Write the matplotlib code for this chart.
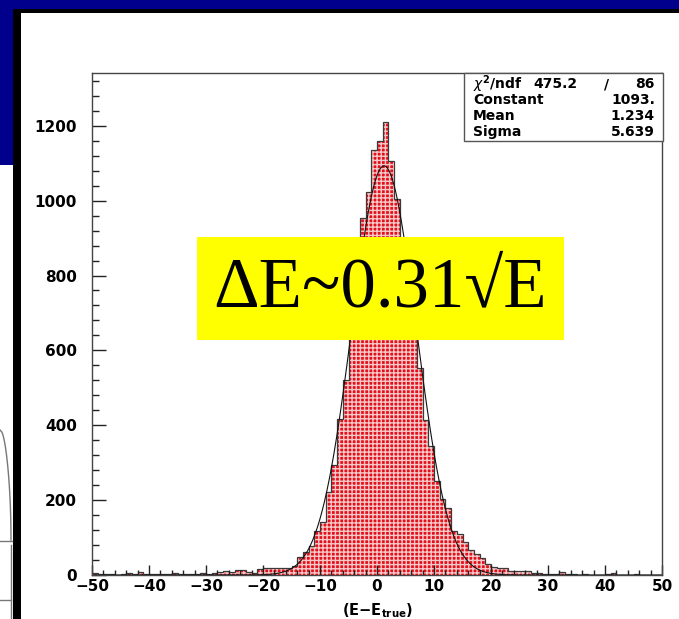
import numpy as np
import matplotlib
matplotlib.use("Agg")
import matplotlib.pyplot as plt
from matplotlib.patches import Rectangle
from matplotlib.ticker import MultipleLocator

# ---------------- data ----------------
x_range = (-50, 50)          # histogram range, 1-unit bins
counts = [
    # -50 .. -41
    5, 4, 3, 2, 1, 3, 5, 2, 7, 3,
    # -40 .. -31
    2, 3, 4, 3, 5, 2, 4, 4, 3, 5,
    # -30 .. -21
    4, 6, 9, 10, 8, 13, 13, 9, 6, 15,
    # -20 .. -11
    18, 18, 19, 20, 18, 24, 48, 62, 78, 118,
    # -10 .. -1
    142, 222, 293, 416, 521, 700, 850, 954, 1024, 1136,
    # 0 .. 9
    1160, 1210, 1106, 1004, 880, 770, 660, 552, 413, 345,
    # 10 .. 19
    252, 204, 178, 118, 110, 89, 68, 56, 46, 30,
    # 20 .. 29
    21, 18, 18, 11, 10, 11, 10, 6, 5, 4,
    # 30 .. 39
    3, 4, 8, 3, 2, 1, 2, 0, 1, 1,
    # 40 .. 49
    2, 5, 1, 0, 1, 2, 0, 1, 0, 1,
]
fit_constant = 1093.0
fit_mean = 1.234
fit_sigma = 5.639
chi2 = 475.2
ndf = 86
x_ticks = [-50, -40, -30, -20, -10, 0, 10, 20, 30, 40, 50]
y_ticks = [0, 200, 400, 600, 800, 1000, 1200]
x_label = "(E\u2212E$_{true}$)"
banner = "\u0394E~0.31\u221aE"

# ---------------- figure ----------------
W, H = 679, 619
fig = plt.figure(figsize=(W / 100, H / 100), dpi=100)
fig.patch.set_facecolor("white")
plt.rcParams["mathtext.default"] = "regular"

def px_axes(z):
    a = fig.add_axes([0, 0, 1, 1], zorder=z)
    a.set_xlim(0, W)
    a.set_ylim(H, 0)
    a.axis("off")
    a.patch.set_alpha(0)
    return a

bg = px_axes(0)
navy = "#00008c"
bg.add_patch(Rectangle((0, 0), W, 9, color=navy, lw=0))
bg.add_patch(Rectangle((0, 0), 13, 165, color=navy, lw=0))
bg.add_patch(Rectangle((13, 9), W - 13, 4, color="black", lw=0))
bg.add_patch(Rectangle((13, 9), 8, H, color="black", lw=0))
# remnants of the underlying slide at the far left
t = np.linspace(0, 1, 50)
bg.plot(11 * np.sin(t * np.pi / 2) ** 0.5, 430 + 110 * t, color="#777777", lw=1)
bg.plot([0, 12], [541, 541], color="#777777", lw=1)
bg.plot([11, 11], [545, H], color="#777777", lw=1)
bg.plot([0, 11], [600, 600], color="#777777", lw=1)

# main axes in pixel placement
L, R, T, B = 92, 662, 73, 575
ax = fig.add_axes([L / W, (H - B) / H, (R - L) / W, (B - T) / H], zorder=5)
ax.set_facecolor("white")

edges = np.arange(x_range[0], x_range[1] + 1, 1)
vals = np.array(counts, dtype=float)
plt.rcParams["hatch.linewidth"] = 1.0
ax.stairs(vals, edges, fill=True, facecolor="#e3101c", edgecolor="#f6c9c9",
          hatch="++++", linewidth=0)
ax.stairs(vals, edges, color="#3a3a3a", lw=0.9)

xf = np.linspace(x_range[0], x_range[1], 1000)
yf = fit_constant * np.exp(-0.5 * ((xf - fit_mean) / fit_sigma) ** 2)
ax.plot(xf, yf, color="#111111", lw=0.8)

ax.set_xlim(*x_range)
ax.set_ylim(0, 1341)
ax.set_xticks(x_ticks)
ax.set_yticks(y_ticks)
ax.xaxis.set_minor_locator(MultipleLocator(2))
ax.yaxis.set_minor_locator(MultipleLocator(40))
ax.tick_params(axis="x", which="major", direction="in", length=7.2, width=1,
               color="#222222", labelsize=11, pad=3, top=False)
ax.tick_params(axis="x", which="minor", direction="in", length=3.6, width=1,
               color="#222222", top=False)
ax.tick_params(axis="y", which="major", direction="in", length=10, width=1,
               color="#222222", labelsize=11, pad=11, right=False)
ax.tick_params(axis="y", which="minor", direction="in", length=5, width=1,
               color="#222222", right=False)
for lab in ax.get_xticklabels() + ax.get_yticklabels():
    lab.set_fontweight("bold")
for s in ax.spines.values():
    s.set_color("#444444")
    s.set_linewidth(1)

fg = px_axes(10)
# stats box
fg.add_patch(Rectangle((464, 73), 199, 68, facecolor="white",
                       edgecolor="#555555", lw=1))
sfont = dict(fontsize=10, color="black", va="center", fontweight="bold")
fg.text(473, 84, "$\\mathit{\\chi}^2$/ndf", ha="left", **sfont)
fg.text(578, 84, f"{chi2:.1f}", ha="right", **sfont)
fg.text(607, 84, "/", ha="center", **sfont)
fg.text(655, 84, f"{ndf}", ha="right", **sfont)
fg.text(473, 100, "Constant", ha="left", **sfont)
fg.text(655, 100, f"{fit_constant:.0f}.", ha="right", **sfont)
fg.text(473, 116, "Mean", ha="left", **sfont)
fg.text(655, 116, f"{fit_mean:.3f}", ha="right", **sfont)
fg.text(473, 132, "Sigma", ha="left", **sfont)
fg.text(655, 132, f"{fit_sigma:.3f}", ha="right", **sfont)

# yellow banner
fg.add_patch(Rectangle((197, 237), 367, 103, facecolor="#ffff00", lw=0))
fg.text(380, 289, banner, ha="center", va="center", fontsize=51,
        family=["Liberation Serif", "DejaVu Serif"], color="black")

# x axis title near the bottom edge
fg.text(378, 601, x_label, ha="center", va="top", fontsize=10.5,
        fontweight="bold")

fig.savefig("out.png", dpi=100)
